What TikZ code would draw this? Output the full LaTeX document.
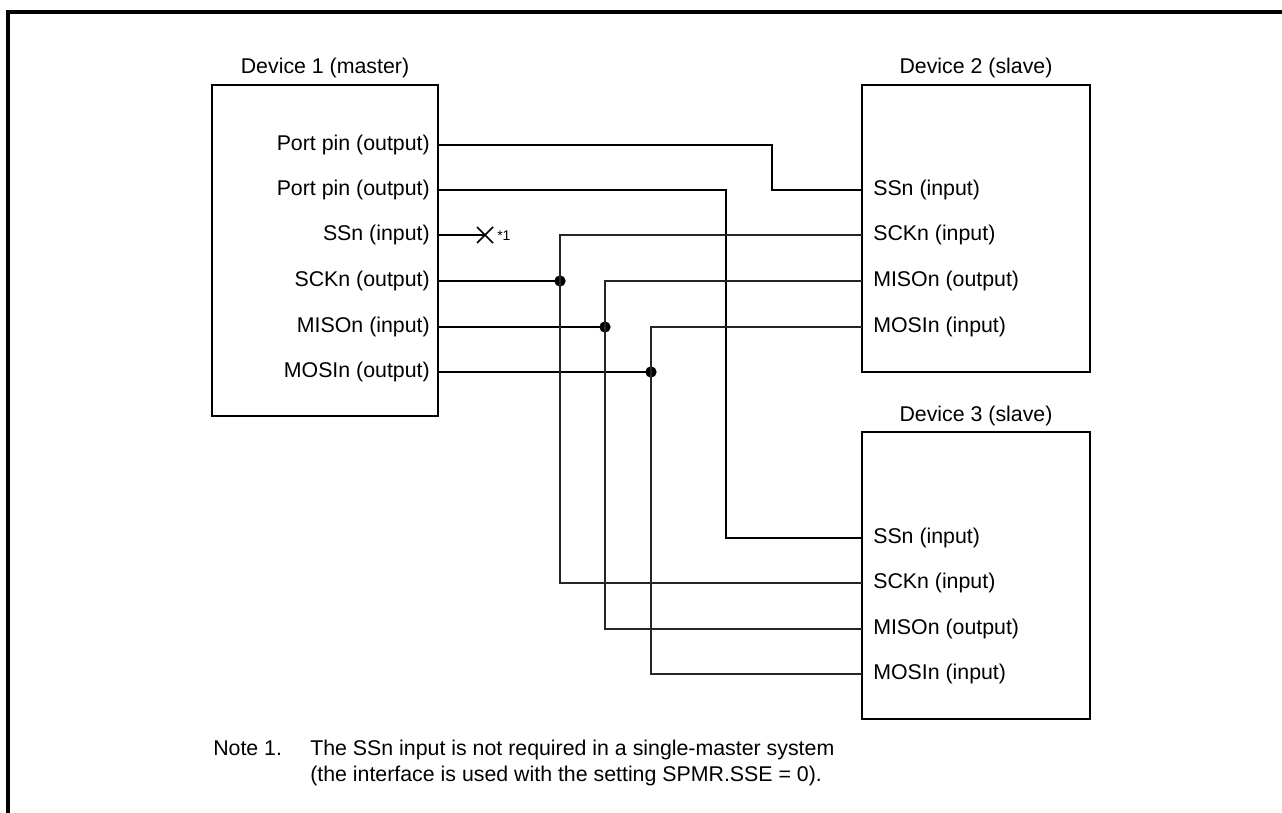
\documentclass[tikz,border=0pt]{standalone}
\usepackage{fontspec}
\setmainfont{Liberation Sans}
\usetikzlibrary{calc}
\begin{document}
\begin{tikzpicture}[x=0.75pt,y=-0.75pt,
  frame/.style={line width=2.3pt},
  devbox/.style={line width=1.5pt},
  thick wire/.style={line width=1.7pt},
  thin wire/.style={line width=0.9pt,black!85},
  lbl/.style={inner sep=0pt,font=\fontsize{16}{19}\selectfont},
  pinl/.style={lbl,anchor=east},
  pinr/.style={lbl,anchor=west},
  dotc/.style={fill=black,circle,inner sep=0pt,minimum size=8.5pt},
  notetext/.style={inner sep=0pt,anchor=base west,font=\fontsize{16}{19}\selectfont}]
\useasboundingbox (0,0) rectangle (1282,813);
% outer frame (top and left)
\draw[frame] (8,813) -- (8,12) -- (1282,12);
% device boxes
\draw[devbox] (212,85) rectangle (438,416);
\draw[devbox] (862,85) rectangle (1090,372);
\draw[devbox] (862,432) rectangle (1090,719);
\node[lbl] (t1) at (325,68) {Device 1 (master)};
\node[lbl] (t2) at (976,68) {Device 2 (slave)};
\node[lbl] (t3) at (976,416) {Device 3 (slave)};
% device 1 pins
\node[pinl] (a1) at (430,145) {Port pin (output)};
\node[pinl] (a2) at (430,190) {Port pin (output)};
\node[pinl] (a3) at (430,235) {SSn (input)};
\node[pinl] (a4) at (430,281) {SCKn (output)};
\node[pinl] (a5) at (430,327) {MISOn (input)};
\node[pinl] (a6) at (430,372) {MOSIn (output)};
\foreach \i/\y in {1/145,2/190,3/235,4/281,5/327,6/372} \coordinate (m\i) at (438,\y);
% device 2 pins
\node[pinr] (b1) at (873,190) {SSn (input)};
\node[pinr] (b2) at (873,235) {SCKn (input)};
\node[pinr] (b3) at (873,281) {MISOn (output)};
\node[pinr] (b4) at (873,327) {MOSIn (input)};
\foreach \i/\y in {1/190,2/235,3/281,4/327} \coordinate (s\i) at (862,\y);
% device 3 pins
\node[pinr] (c1) at (873,538) {SSn (input)};
\node[pinr] (c2) at (873,583) {SCKn (input)};
\node[pinr] (c3) at (873,629) {MISOn (output)};
\node[pinr] (c4) at (873,674) {MOSIn (input)};
\foreach \i/\y in {1/538,2/583,3/629,4/674} \coordinate (u\i) at (862,\y);
% junctions
\node[dotc] (j1) at (560,281) {};
\node[dotc] (j2) at (605,327) {};
\node[dotc] (j3) at (651,372) {};
% wires
\draw[thick wire] (m1) -- (772,145) |- (s1);
\draw[thick wire] (m2) -- (726,190) |- (u1);
\coordinate (xx) at (485,235);
\draw[thick wire] (m3) -- (xx);
\draw[line width=1.3pt] ($(xx)+(-8,-8)$) -- ($(xx)+(8,8)$) ($(xx)+(-8,8)$) -- ($(xx)+(8,-8)$);
\node[inner sep=0pt,anchor=west,font=\fontsize{10.5}{12}\selectfont] (n1) at (497,236) {*1};
\draw[thick wire] (m4) -- (j1.center);
\draw[thick wire] (m5) -- (j2.center);
\draw[thick wire] (m6) -- (j3.center);
\draw[thin wire] (s2) -| (j1.center) |- (u2);
\draw[thin wire] (s3) -| (j2.center) |- (u3);
\draw[thin wire] (s4) -| (j3.center) |- (u4);
% note
\node[notetext] (note1) at (213,755) {Note 1.};
\node[notetext] (note2) at (310,755) {The SSn input is not required in a single-master system};
\node[notetext] (note3) at (310,781) {(the interface is used with the setting SPMR.SSE = 0).};
\end{tikzpicture}
\end{document}
